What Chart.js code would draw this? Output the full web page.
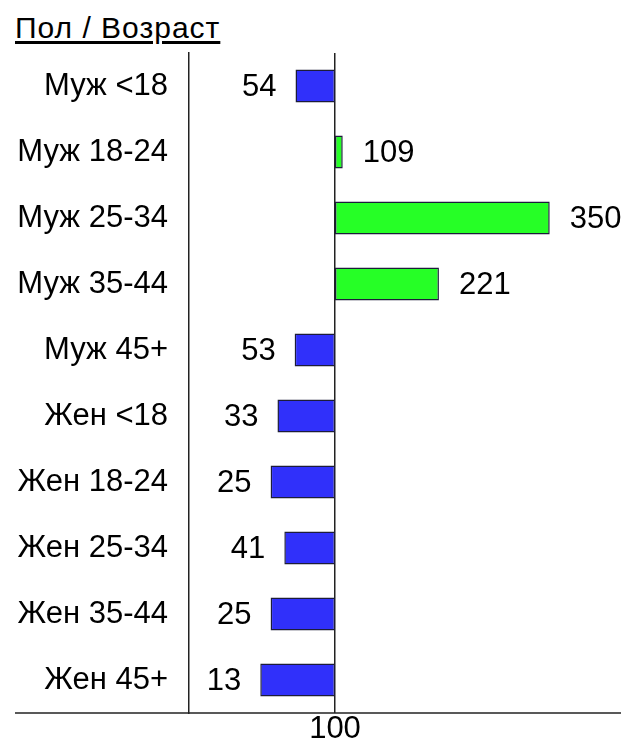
<!DOCTYPE html>
<html>
<head>
<meta charset="utf-8">
<script src="https://cdn.jsdelivr.net/npm/chart.js@4"></script>
<style>
  html, body { margin: 0; padding: 0; background: #fff; }
  #wrap { position: relative; width: 632px; height: 738px; overflow: hidden; }
  #title {
    position: absolute; left: 15px; top: 11px;
    font: 30px "Liberation Sans", Arial, sans-serif; color: #000;
    letter-spacing: 1px; white-space: nowrap;
    text-decoration: underline; text-decoration-thickness: 3px; text-underline-offset: 3px;
  }
  canvas { position: absolute; left: 0; top: 0; }
</style>
</head>
<body>
<div id="wrap">
  <div id="title">Пол / Возраст</div>
  <canvas id="chart" width="632" height="738"></canvas>
</div>
<script>
// ============================================================
// Data (index vs. 100)
// ============================================================
const categories = ['Муж <18', 'Муж 18-24', 'Муж 25-34', 'Муж 35-44', 'Муж 45+',
                    'Жен <18', 'Жен 18-24', 'Жен 25-34', 'Жен 35-44', 'Жен 45+'];
const indexValues = [54, 109, 350, 221, 53, 33, 25, 41, 25, 13];
const baseline = 100;
const xTicks = [100];

const FONT = '"Liberation Sans", Arial, sans-serif';
const BLUE = '#3030fa';
const GREEN = '#26ff26';

// ============================================================
// Plugins
// ============================================================
// value labels at the end of each bar
const valueLabels = {
  id: 'valueLabels',
  afterDatasetsDraw(chart) {
    const ctx = chart.ctx;
    const meta = chart.getDatasetMeta(0);
    const xScale = chart.scales.x;
    ctx.save();
    ctx.font = '31px ' + FONT;
    ctx.fillStyle = '#000';
    ctx.textBaseline = 'middle';
    meta.data.forEach((bar, i) => {
      const v = indexValues[i];
      const xEnd = xScale.getPixelForValue(v);
      if (v >= baseline) {
        ctx.textAlign = 'left';
        ctx.fillText(String(v), xEnd + 20, bar.y + 1);
      } else {
        ctx.textAlign = 'right';
        ctx.fillText(String(v), xEnd - 19, bar.y + 1);
      }
    });
    ctx.restore();
  }
};

// bottom axis line running under the category labels too
const bottomLine = {
  id: 'bottomLine',
  afterDraw(chart) {
    const { ctx, chartArea } = chart;
    ctx.save();
    ctx.strokeStyle = '#222';
    ctx.lineWidth = 1.5;
    ctx.beginPath();
    ctx.moveTo(15, chartArea.bottom);
    ctx.lineTo(chartArea.right, chartArea.bottom);
    ctx.stroke();
    ctx.restore();
  }
};

// ============================================================
// Chart
// ============================================================
new Chart(document.getElementById('chart'), {
  type: 'bar',
  data: {
    labels: categories,
    datasets: [{
      data: indexValues.map(v => [baseline, v]),
      backgroundColor: indexValues.map(v => v >= baseline ? GREEN : BLUE),
      borderColor: '#1c1c3a',
      borderWidth: 1.5,
      borderSkipped: false,
      barPercentage: 0.5,
      categoryPercentage: 1.0,
    }]
  },
  options: {
    indexAxis: 'y',
    responsive: false,
    animation: false,
    layout: { padding: { top: 53, right: 11, left: 0, bottom: 0 } },
    plugins: {
      legend: { display: false },
      tooltip: { enabled: false },
    },
    scales: {
      x: {
        min: -70,
        max: 433,
        afterBuildTicks: scale => { scale.ticks = xTicks.map(v => ({ value: v })); },
        afterFit: scale => { scale.height = 25; scale.paddingLeft = 0; scale.paddingRight = 0; },
        grid: {
          color: '#222',
          lineWidth: 1.5,
          drawTicks: false,
        },
        border: { display: false },
        ticks: {
          color: '#000',
          padding: -2,
          font: { family: FONT, size: 31 },
        },
      },
      y: {
        afterFit: scale => { scale.width = 189; scale.paddingTop = 0; scale.paddingBottom = 0; },
        grid: { display: false, drawTicks: false },
        border: { display: true, color: '#222', width: 1.5 },
        ticks: {
          color: '#000',
          padding: 21,
          font: { family: FONT, size: 31 },
        },
      },
    },
  },
  plugins: [valueLabels, bottomLine],
});
</script>
</body>
</html>
